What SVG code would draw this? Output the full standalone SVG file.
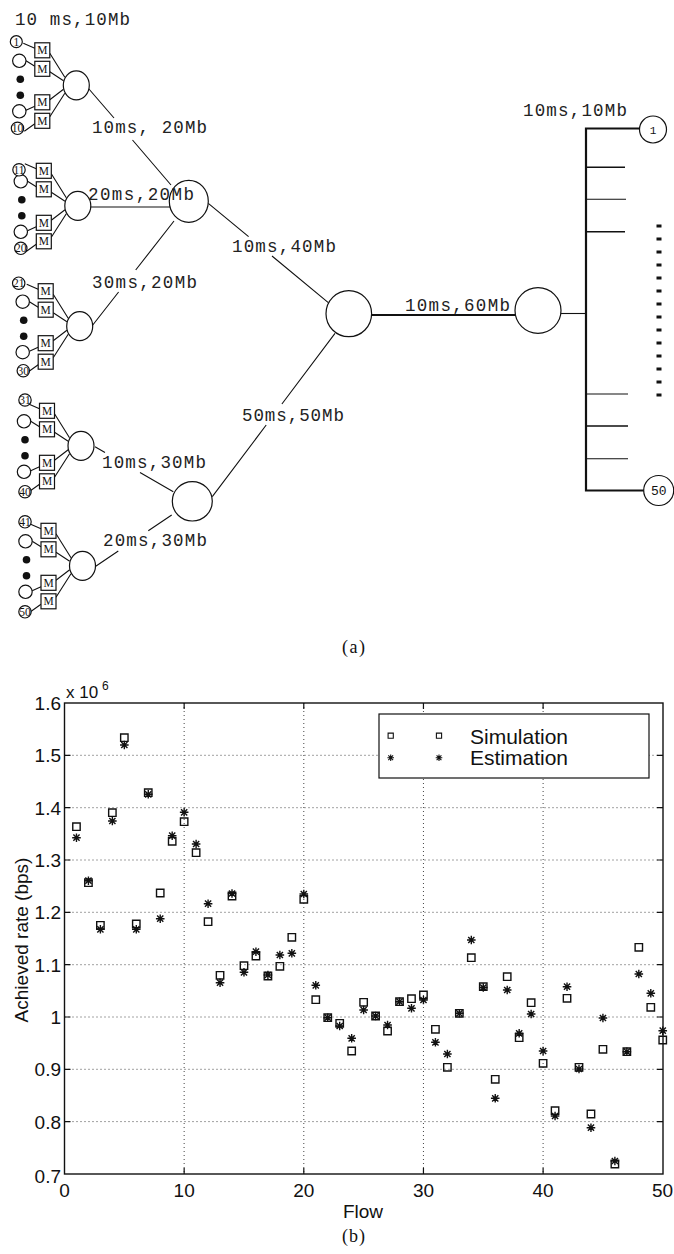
<svg xmlns="http://www.w3.org/2000/svg" width="674" height="1254" viewBox="0 0 674 1254">
<style>
.ln{stroke:#111;stroke-width:1.1;fill:none}
.thick{stroke:#111;stroke-width:2.2;fill:none}
.nd{fill:#fff;stroke:#111;stroke-width:1.2}
.dot{fill:#111}
.lab{font-family:"Liberation Mono","DejaVu Sans Mono",monospace;font-size:17.5px;fill:#222}
.num{font-family:"Liberation Serif",serif;font-size:11.5px;fill:#111;text-anchor:middle}
.rnum{font-family:"Liberation Mono",monospace;font-size:13px;fill:#111;text-anchor:middle}
.ax{font-family:"Liberation Sans",Arial,sans-serif;font-size:19px;fill:#111}
.cap{font-family:"Liberation Serif","Times New Roman",serif;font-size:18px;fill:#111}
.grid{stroke:#444;stroke-width:1;stroke-dasharray:1 3;fill:none}
.mk{fill:none;stroke:#111;stroke-width:1.4}
.mks{fill:none;stroke:#111;stroke-width:1.1}
</style>
<defs>
<path id="sq" class="mk" d="M-3.7-3.7h7.4v7.4h-7.4z"/>
<path id="st" class="mk" d="M-4.3 0H4.3M0-4.3V4.3M-3.1-3.1L3.1 3.1M-3.1 3.1L3.1-3.1"/>
<path id="sqs" class="mks" d="M-2.6-2.6h5.2v5.2h-5.2z"/>
<path id="sts" class="mks" d="M-3.3 0H3.3M0-3.3V3.3M-2.4-2.4L2.4 2.4M-2.4 2.4L2.4-2.4"/>
<g id="cl-links">
<path class="ln" d="M-53-42L-41.5-37M-50.3-24.5L-41.5-19M-50.3 25L-41.5 21M-52 46L-41.5 38.5M-26.5-32L-11.5-8M-26.5-13.5L-12.8-4.5M-26.5 14.5L-12.8 4M-26.5 31.5L-11.5 8"/>
</g>
<g id="cl-nodes">
<circle class="nd" cx="-57" cy="-24.5" r="6.7"/>
<circle class="dot" cx="-56" cy="-6" r="3.8"/>
<circle class="dot" cx="-56" cy="10" r="3.8"/>
<circle class="nd" cx="-57" cy="26" r="6.7"/>
<rect class="nd" x="-41.5" y="-42.5" width="15" height="15"/>
<rect class="nd" x="-41.5" y="-24" width="15" height="15"/>
<rect class="nd" x="-41.5" y="9.5" width="15" height="15"/>
<rect class="nd" x="-41.5" y="28" width="15" height="15"/>
<text class="num" x="-34" y="-31">M</text>
<text class="num" x="-34" y="-12.5">M</text>
<text class="num" x="-34" y="21">M</text>
<text class="num" x="-34" y="39.5">M</text>
<ellipse class="nd" cx="0" cy="0" rx="13" ry="14.5"/>
</g>
</defs>
<rect width="674" height="1254" fill="#fff"/>

<g id="connectors">
<use href="#cl-links" transform="translate(76.3,85.3)"/>
<use href="#cl-links" transform="translate(77.8,205.8)"/>
<use href="#cl-links" transform="translate(79.7,326.2)"/>
<use href="#cl-links" transform="translate(81,445.8)"/>
<use href="#cl-links" transform="translate(82.5,565.8)"/>
<path class="ln" d="M88.5 88.5L114 118M132.5 140L171 185"/>
<path class="ln" d="M91 207H170"/>
<path class="ln" d="M92 326L118.6 292M135.7 270L174 221"/>
<path class="ln" d="M208.3 203.3L248.6 236.7M272 256L328.3 302.7"/>
<path class="ln" d="M95 446.7L105 452.4M140 472.6L173.3 491.7"/>
<path class="ln" d="M95 566.7L118.3 551M148.3 530.8L171.7 515"/>
<path class="ln" d="M212.3 496.7L266.2 425M281.9 404L335 333.3"/>
<path class="thick" d="M371.5 315H515"/>
<path class="ln" d="M561 313.5H586"/>
<path class="thick" d="M586 127.5V491.5M585 128.5H639.5M585 490.5H644"/>
<path class="thick" style="stroke-width:1.6" d="M586 167.3H625M586 231.7H625M586 426H628"/>
<path class="ln" d="M586 199.3H626M586 394H628M586 458.7H628"/>
</g>

<g id="cluster1" transform="translate(76.3,85.3)">
<use href="#cl-nodes"/>
<circle class="nd" cx="-60" cy="-43.6" r="6"/><text class="num" x="-60" y="-39.6">1</text>
<circle class="nd" cx="-58.8" cy="43" r="6.2"/><text class="num" x="-58.8" y="47">10</text>
</g>
<g id="cluster2" transform="translate(77.8,205.8)">
<use href="#cl-nodes"/>
<circle class="nd" cx="-58.8" cy="-36" r="6.2"/><text class="num" x="-58.8" y="-32">11</text>
<circle class="nd" cx="-57" cy="42.5" r="6.2"/><text class="num" x="-57" y="46.5">20</text>
</g>
<g id="cluster3" transform="translate(79.7,326.2)">
<use href="#cl-nodes"/>
<circle class="nd" cx="-61" cy="-43" r="6.2"/><text class="num" x="-61" y="-39">21</text>
<circle class="nd" cx="-56.4" cy="44.5" r="6.2"/><text class="num" x="-56.4" y="48.5">30</text>
</g>
<g id="cluster4" transform="translate(81,445.8)">
<use href="#cl-nodes"/>
<circle class="nd" cx="-56" cy="-45.8" r="6.2"/><text class="num" x="-56" y="-41.8">31</text>
<circle class="nd" cx="-56" cy="45.9" r="6.2"/><text class="num" x="-56" y="49.9">40</text>
</g>
<g id="cluster5" transform="translate(82.5,565.8)">
<use href="#cl-nodes"/>
<circle class="nd" cx="-57.5" cy="-44" r="6.2"/><text class="num" x="-57.5" y="-40">41</text>
<circle class="nd" cx="-57.5" cy="46" r="6.2"/><text class="num" x="-57.5" y="50">50</text>
</g>

<g id="nodeA"><ellipse class="nd" cx="188.8" cy="201.3" rx="19.5" ry="21"/></g>
<g id="nodeB"><ellipse class="nd" cx="192.3" cy="501.3" rx="20" ry="19.7"/></g>
<g id="nodeCenter"><ellipse class="nd" cx="348.8" cy="313.7" rx="22.8" ry="23"/></g>
<g id="nodeRight"><ellipse class="nd" cx="538" cy="310.5" rx="23" ry="22.8"/></g>
<g id="sink1"><circle class="nd" cx="653" cy="129.5" r="13.5"/><text class="rnum" x="653" y="133.5" style="font-size:11px">1</text></g>
<g id="sink50"><circle class="nd" cx="658.7" cy="490.5" r="15"/><text class="rnum" x="658.7" y="495">50</text></g>
<g id="dots" fill="#111">
<rect x="656.5" y="224.5" width="5" height="3"/><rect x="656.5" y="237.5" width="5" height="3"/>
<rect x="656.5" y="250.5" width="5" height="3"/><rect x="656.5" y="263.5" width="5" height="3"/>
<rect x="656.5" y="276.5" width="5" height="3"/><rect x="656.5" y="289.5" width="5" height="3"/>
<rect x="656.5" y="302.5" width="5" height="3"/><rect x="656.5" y="315.5" width="5" height="3"/>
<rect x="656.5" y="328.5" width="5" height="3"/><rect x="656.5" y="341.5" width="5" height="3"/>
<rect x="656.5" y="354.5" width="5" height="3"/><rect x="656.5" y="367.5" width="5" height="3"/>
<rect x="656.5" y="380.5" width="5" height="3"/><rect x="656.5" y="393.5" width="5" height="3"/>
</g>

<g id="link-labels">
<text class="lab" x="15" y="25" textLength="115">10 ms,10Mb</text>
<text class="lab" x="92" y="133" textLength="115">10ms, 20Mb</text>
<text class="lab" x="88" y="200" textLength="106">20ms,20Mb</text>
<text class="lab" x="92" y="288" textLength="105">30ms,20Mb</text>
<text class="lab" x="232" y="252" textLength="104">10ms,40Mb</text>
<text class="lab" x="405" y="311" textLength="105">10ms,60Mb</text>
<text class="lab" x="523" y="116" textLength="104">10ms,10Mb</text>
<text class="lab" x="242" y="421" textLength="102">50ms,50Mb</text>
<text class="lab" x="102" y="468" textLength="104">10ms,30Mb</text>
<text class="lab" x="103" y="546" textLength="104">20ms,30Mb</text>
</g>
<text class="cap" x="342" y="653" textLength="23">(a)</text>

<g id="plot">
<g class="grid">
<path d="M184.15 703V1174M303.8 703V1174M423.45 703V1174M543.1 703V1174"/>
<path d="M64.5 755.3H663M64.5 807.7H663M64.5 860H663M64.5 912.3H663M64.5 964.7H663M64.5 1017H663M64.5 1069.3H663M64.5 1121.6H663"/>
</g>
<rect x="64.5" y="703" width="598.5" height="471" fill="none" stroke="#111" stroke-width="1.4"/>
<path stroke="#111" stroke-width="1.2" fill="none" d="M64.5 755.3h6M64.5 807.7h6M64.5 860h6M64.5 912.3h6M64.5 964.7h6M64.5 1017h6M64.5 1069.3h6M64.5 1121.6h6M663 755.3h-6M663 807.7h-6M663 860h-6M663 912.3h-6M663 964.7h-6M663 1017h-6M663 1069.3h-6M663 1121.6h-6M184.15 1174v-6M303.8 1174v-6M423.45 1174v-6M543.1 1174v-6M184.15 703v6M303.8 703v6M423.45 703v6M543.1 703v6"/>
<g class="ax" text-anchor="end">
<text x="61" y="710">1.6</text><text x="61" y="762.3">1.5</text><text x="61" y="814.7">1.4</text>
<text x="61" y="867">1.3</text><text x="61" y="919.3">1.2</text><text x="61" y="971.7">1.1</text>
<text x="61" y="1024">1</text><text x="61" y="1076.3">0.9</text><text x="61" y="1128.6">0.8</text>
<text x="61" y="1183">0.7</text>
</g>
<g class="ax" text-anchor="middle">
<text x="64.5" y="1197">0</text><text x="184.15" y="1197">10</text><text x="303.8" y="1197">20</text>
<text x="423.45" y="1197">30</text><text x="543.1" y="1197">40</text><text x="662.5" y="1197">50</text>
<text x="363" y="1218">Flow</text>
<text transform="translate(28,940) rotate(-90)">Achieved rate (bps)</text>
</g>
<text class="ax" x="66" y="698" style="font-size:17px">x 10</text>
<text class="ax" x="102" y="690" style="font-size:12px">6</text>

<g id="sim">
<use href="#sq" x="76.47" y="826.7"/><use href="#sq" x="88.43" y="882.7"/><use href="#sq" x="100.4" y="925.3"/>
<use href="#sq" x="112.36" y="812.7"/><use href="#sq" x="124.33" y="737.7"/><use href="#sq" x="136.29" y="924"/>
<use href="#sq" x="148.26" y="792.7"/><use href="#sq" x="160.22" y="893"/><use href="#sq" x="172.19" y="841.3"/>
<use href="#sq" x="184.15" y="821.7"/><use href="#sq" x="196.12" y="852.7"/><use href="#sq" x="208.08" y="921.7"/>
<use href="#sq" x="220.05" y="975.3"/><use href="#sq" x="232.01" y="896"/><use href="#sq" x="243.98" y="965.7"/>
<use href="#sq" x="255.94" y="956"/><use href="#sq" x="267.91" y="976"/><use href="#sq" x="279.87" y="966.3"/>
<use href="#sq" x="291.84" y="937.3"/><use href="#sq" x="303.8" y="899.3"/><use href="#sq" x="315.77" y="999.7"/>
<use href="#sq" x="327.73" y="1017.7"/><use href="#sq" x="339.7" y="1023.3"/><use href="#sq" x="351.66" y="1051"/>
<use href="#sq" x="363.63" y="1002.3"/><use href="#sq" x="375.59" y="1016"/><use href="#sq" x="387.56" y="1031"/>
<use href="#sq" x="399.52" y="1001.7"/><use href="#sq" x="411.49" y="998.7"/><use href="#sq" x="423.45" y="995"/>
<use href="#sq" x="435.42" y="1029.3"/><use href="#sq" x="447.38" y="1067.3"/><use href="#sq" x="459.35" y="1013.3"/>
<use href="#sq" x="471.31" y="957.7"/><use href="#sq" x="483.28" y="986.7"/><use href="#sq" x="495.24" y="1079.3"/>
<use href="#sq" x="507.21" y="976.7"/><use href="#sq" x="519.17" y="1037.7"/><use href="#sq" x="531.14" y="1002.7"/>
<use href="#sq" x="543.1" y="1063.3"/><use href="#sq" x="555.07" y="1110.7"/><use href="#sq" x="567.03" y="998.3"/>
<use href="#sq" x="579" y="1067.3"/><use href="#sq" x="590.96" y="1114"/><use href="#sq" x="602.93" y="1049.3"/>
<use href="#sq" x="614.89" y="1164"/><use href="#sq" x="626.86" y="1051.7"/><use href="#sq" x="638.82" y="947.3"/>
<use href="#sq" x="650.79" y="1007.3"/><use href="#sq" x="662.75" y="1040"/>
</g>
<g id="est">
<use href="#st" x="76.47" y="837.7"/><use href="#st" x="88.43" y="880.7"/><use href="#st" x="100.4" y="929.3"/>
<use href="#st" x="112.36" y="821"/><use href="#st" x="124.33" y="745"/><use href="#st" x="136.29" y="929.3"/>
<use href="#st" x="148.26" y="794.3"/><use href="#st" x="160.22" y="918.7"/><use href="#st" x="172.19" y="835.7"/>
<use href="#st" x="184.15" y="812.3"/><use href="#st" x="196.12" y="844"/><use href="#st" x="208.08" y="903.7"/>
<use href="#st" x="220.05" y="982.7"/><use href="#st" x="232.01" y="893.5"/><use href="#st" x="243.98" y="972.3"/>
<use href="#st" x="255.94" y="951.7"/><use href="#st" x="267.91" y="975"/><use href="#st" x="279.87" y="955"/>
<use href="#st" x="291.84" y="953.3"/><use href="#st" x="303.8" y="894"/><use href="#st" x="315.77" y="985.3"/>
<use href="#st" x="327.73" y="1017.7"/><use href="#st" x="339.7" y="1026"/><use href="#st" x="351.66" y="1038.3"/>
<use href="#st" x="363.63" y="1010"/><use href="#st" x="375.59" y="1016"/><use href="#st" x="387.56" y="1025"/>
<use href="#st" x="399.52" y="1001.7"/><use href="#st" x="411.49" y="1008.3"/><use href="#st" x="423.45" y="1000"/>
<use href="#st" x="435.42" y="1042.3"/><use href="#st" x="447.38" y="1054"/><use href="#st" x="459.35" y="1013.3"/>
<use href="#st" x="471.31" y="940"/><use href="#st" x="483.28" y="987.5"/><use href="#st" x="495.24" y="1098.3"/>
<use href="#st" x="507.21" y="990"/><use href="#st" x="519.17" y="1033.3"/><use href="#st" x="531.14" y="1014"/>
<use href="#st" x="543.1" y="1051"/><use href="#st" x="555.07" y="1116"/><use href="#st" x="567.03" y="986.7"/>
<use href="#st" x="579" y="1069"/><use href="#st" x="590.96" y="1127.7"/><use href="#st" x="602.93" y="1018"/>
<use href="#st" x="614.89" y="1161"/><use href="#st" x="626.86" y="1051.7"/><use href="#st" x="638.82" y="974"/>
<use href="#st" x="650.79" y="993.3"/><use href="#st" x="662.75" y="1030.7"/>
</g>

<g id="legend">
<rect x="379" y="714" width="270" height="64" fill="#fff" stroke="#111" stroke-width="1.2"/>
<use href="#sqs" x="390.7" y="735.7"/><use href="#sqs" x="439" y="735.7"/>
<use href="#sts" x="390.7" y="757.7"/><use href="#sts" x="439" y="757.7"/>
<text class="ax" x="470" y="744" style="font-size:21px">Simulation</text>
<text class="ax" x="470" y="765" style="font-size:21px">Estimation</text>
</g>
</g>
<text class="cap" x="342" y="1242" textLength="23">(b)</text>
</svg>
